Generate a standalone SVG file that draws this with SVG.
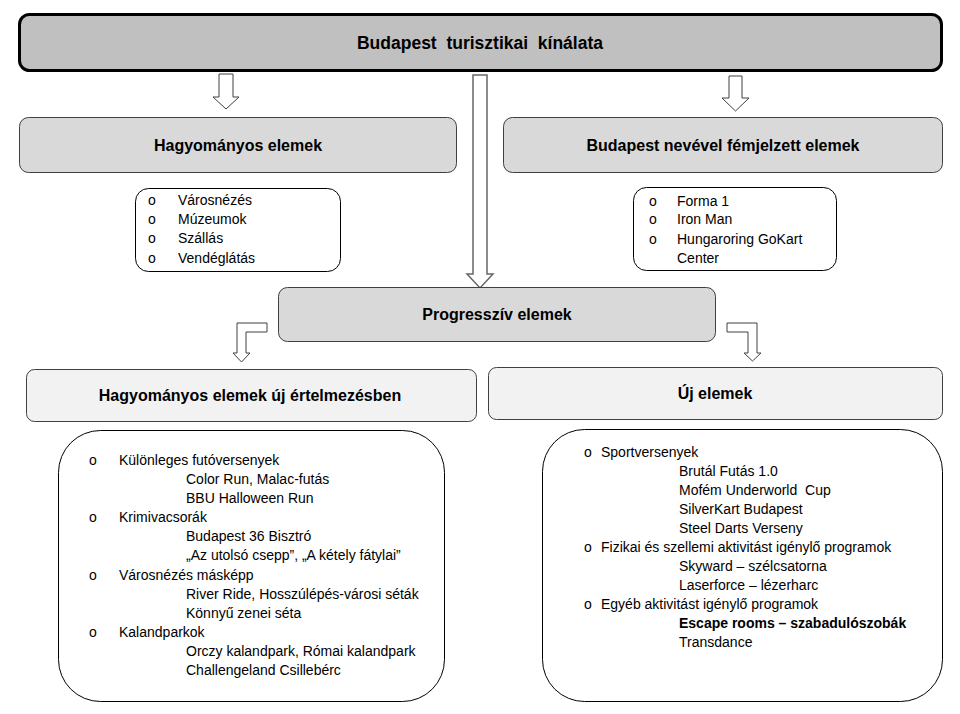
<svg xmlns="http://www.w3.org/2000/svg" width="960" height="714" viewBox="0 0 960 714">
<style>
text{font-family:"Liberation Sans",Arial,sans-serif;fill:#000}
.h{font-weight:bold;font-size:16px;text-anchor:middle}
.t{font-size:14px}
.b{font-weight:bold}
.hdr{fill:#d9d9d9;stroke:#404040;stroke-width:1}
.hdr2{fill:#f2f2f2;stroke:#404040;stroke-width:1}
.lst{fill:#fff;stroke:#000;stroke-width:1}
.arr{fill:#fff;stroke:#404040;stroke-width:1}
</style>
<rect width="960" height="714" fill="#fff"/>
<g id="connectors">
<polygon class="arr" points="219,74 233,74 233,97 239,97 226,109 213,97 219,97"/>
<polygon class="arr" points="729,76 742,76 742,98 749,98 735.5,111 722,98 729,98"/>
<polygon class="arr" points="473,75 487,75 487,274 493,274 480,288 467,274 473,274" style="stroke:#666;stroke-width:1.5"/>
<polygon class="arr" points="267,323 237,323 237,353 233,353 241.5,362 250,353 246,353 246,332 267,332"/>
<polygon class="arr" points="727,323 757,323 757,353 761,353 752.5,361 744,353 748,353 748,332 727,332"/>
</g>
<g id="top">
<rect x="19.5" y="14.5" width="922" height="56" rx="10" fill="#c0c0c0" stroke="#000" stroke-width="3"/>
<text class="h" x="480" y="49" style="font-size:17.5px" xml:space="preserve">Budapest  turisztikai  kínálata</text>
</g>
<g id="hagyomanyos">
<rect class="hdr" x="19.5" y="117.5" width="437" height="55" rx="9"/>
<text class="h" x="238" y="151">Hagyományos elemek</text>
</g>
<g id="hagyomanyos-list">
<rect class="lst" x="135.5" y="188.5" width="205" height="83" rx="13"/>
<text class="t" x="148" y="205">o</text><text class="t" x="178" y="205">Városnézés</text>
<text class="t" x="148" y="224">o</text><text class="t" x="178" y="224">Múzeumok</text>
<text class="t" x="148" y="243">o</text><text class="t" x="178" y="243">Szállás</text>
<text class="t" x="148" y="263">o</text><text class="t" x="178" y="263">Vendéglátás</text>
</g>
<g id="budapest-nev">
<rect class="hdr" x="503.5" y="117.5" width="439" height="55" rx="9"/>
<text class="h" x="723" y="151">Budapest nevével fémjelzett elemek</text>
</g>
<g id="budapest-nev-list">
<rect class="lst" x="633.5" y="187.5" width="203" height="83" rx="13"/>
<text class="t" x="649" y="206">o</text><text class="t" x="677" y="206">Forma 1</text>
<text class="t" x="649" y="224">o</text><text class="t" x="677" y="224">Iron Man</text>
<text class="t" x="649" y="244">o</text><text class="t" x="677" y="244">Hungaroring GoKart</text>
<text class="t" x="677" y="263">Center</text>
</g>
<g id="progressziv">
<rect class="hdr" x="278.5" y="287.5" width="437" height="54" rx="9"/>
<text class="h" x="497" y="320">Progresszív elemek</text>
</g>
<g id="uj-ertelmezes">
<rect class="hdr2" x="26.5" y="369.5" width="450" height="52" rx="8"/>
<text class="h" x="250" y="401">Hagyományos elemek új értelmezésben</text>
</g>
<g id="uj-elemek">
<rect class="hdr2" x="488.5" y="367.5" width="454" height="52" rx="8"/>
<text class="h" x="715" y="399">Új elemek</text>
</g>
<g id="uj-ertelmezes-list">
<rect class="lst" x="58.5" y="430.5" width="386" height="271" rx="42"/>
<text class="t" x="89" y="465">o</text><text class="t" x="119" y="465">Különleges futóversenyek</text>
<text class="t" x="186" y="484">Color Run, Malac-futás</text>
<text class="t" x="186" y="503">BBU Halloween Run</text>
<text class="t" x="89" y="522">o</text><text class="t" x="119" y="522">Krimivacsorák</text>
<text class="t" x="186" y="541">Budapest 36 Bisztró</text>
<text class="t" x="186" y="560">„Az utolsó csepp”, „A kétely fátylai”</text>
<text class="t" x="89" y="580">o</text><text class="t" x="119" y="580">Városnézés másképp</text>
<text class="t" x="186" y="599">River Ride, Hosszúlépés-városi séták</text>
<text class="t" x="186" y="618">Könnyű zenei séta</text>
<text class="t" x="89" y="637">o</text><text class="t" x="119" y="637">Kalandparkok</text>
<text class="t" x="186" y="656">Orczy kalandpark, Római kalandpark</text>
<text class="t" x="186" y="675">Challengeland Csillebérc</text>
</g>
<g id="uj-elemek-list">
<rect class="lst" x="542.5" y="429.5" width="400" height="272" rx="42"/>
<text class="t" x="584" y="457">o</text><text class="t" x="601" y="457">Sportversenyek</text>
<text class="t" x="679" y="476">Brutál Futás 1.0</text>
<text class="t" x="679" y="495" xml:space="preserve">Mofém Underworld  Cup</text>
<text class="t" x="679" y="514">SilverKart Budapest</text>
<text class="t" x="679" y="533">Steel Darts Verseny</text>
<text class="t" x="584" y="552">o</text><text class="t" x="601" y="552">Fizikai és szellemi aktivitást igénylő programok</text>
<text class="t" x="679" y="571">Skyward  – szélcsatorna</text>
<text class="t" x="679" y="590">Laserforce – lézerharc</text>
<text class="t" x="584" y="609">o</text><text class="t" x="601" y="609">Egyéb aktivitást igénylő programok</text>
<text class="t b" x="679" y="628">Escape rooms – szabadulószobák</text>
<text class="t" x="679" y="647">Transdance</text>
</g>
</svg>
